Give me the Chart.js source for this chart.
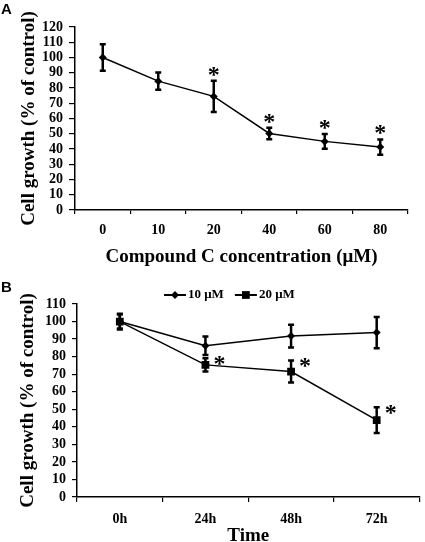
<!DOCTYPE html>
<html><head><meta charset="utf-8">
<script src="https://cdn.jsdelivr.net/npm/chart.js@4.4.0/dist/chart.umd.min.js"></script>
<style>
html,body{margin:0;padding:0;background:#fff;}
body{width:425px;height:542px;position:relative;overflow:hidden;}
.wrap{position:absolute;left:0;width:425px;}
#wa{top:0;height:270px;}
#wb{top:270px;height:272px;}
.lab{position:absolute;left:1px;font:bold 15px "Liberation Sans",Arial,sans-serif;line-height:15px;color:#000;}
</style></head><body>
<div class="wrap" id="wa"><canvas id="ca" width="425" height="270"></canvas></div>
<div class="wrap" id="wb"><canvas id="cb" width="425" height="272"></canvas></div>
<div class="lab" style="top:1px">A</div>
<div class="lab" style="top:279px">B</div>
<script>
// Panel A data
const concLabels = ['0', '10', '20', '40', '60', '80'];
const growthA = [100, 84.5, 74.5, 50.2, 45, 41.3];
const errA = [8.7, 5.6, 10.2, 3.8, 4.8, 5];
const sigA = [false, false, true, true, true, true];

// Panel B data
const timeLabels = ['0h', '24h', '48h', '72h'];
const growth10 = [100, 86.2, 91.7, 93.7];
const err10 = [4.5, 5.3, 6.5, 8.9];
const sig10 = [false, false, false, false];
const growth20 = [100, 75.3, 71.5, 43.8];
const err20 = [4, 3.8, 6.3, 7.3];
const sig20 = [false, true, true, true];

const SERIF = "'Liberation Serif', 'Times New Roman', serif";

function drawMarker(ctx, style, x, y, r) {
  ctx.beginPath();
  if (style === 'rect') {
    const s = Math.SQRT1_2 * r;
    ctx.rect(x - s, y - s, 2 * s, 2 * s);
  } else {
    ctx.moveTo(x, y - r); ctx.lineTo(x + r, y); ctx.lineTo(x, y + r); ctx.lineTo(x - r, y); ctx.closePath();
  }
  ctx.fillStyle = '#000';
  ctx.fill();
}

const errorBars = {
  id: 'errorBars',
  afterDatasetsDraw(chart, args, opts) {
    const ctx = chart.ctx, ys = chart.scales.y;
    chart.data.datasets.forEach((ds, di) => {
      if (!ds.errors) return;
      const meta = chart.getDatasetMeta(di);
      ctx.save();
      ctx.strokeStyle = '#000';
      ctx.lineWidth = 2.5;
      meta.data.forEach((pt, i) => {
        const v = ds.data[i], e = ds.errors[i];
        const yt = ys.getPixelForValue(v + e), yb = ys.getPixelForValue(v - e);
        const x = pt.x;
        ctx.beginPath();
        ctx.moveTo(x, yt); ctx.lineTo(x, yb);
        ctx.moveTo(x - 3, yt); ctx.lineTo(x + 3, yt);
        ctx.moveTo(x - 3, yb); ctx.lineTo(x + 3, yb);
        ctx.stroke();
        if (ds.sig && ds.sig[i]) {
          ctx.fillStyle = '#000';
          ctx.font = 'bold 24px ' + SERIF;
          ctx.textAlign = 'center';
          ctx.textBaseline = 'alphabetic';
          const cx = x + (opts.side ? 14 : 0);
          const cy = opts.side ? yt + 1 : yt - 11;
          ctx.fillText('*', cx, cy + 12);
        }
      });
      ctx.restore();
    });
  }
};

const customLegend = {
  id: 'customLegend',
  afterDraw(chart, args, opts) {
    if (!opts.show) return;
    const ctx = chart.ctx;
    let x = opts.x; const y = opts.y;
    ctx.save();
    ctx.font = 'bold 13px ' + SERIF;
    ctx.textBaseline = 'middle';
    ctx.textAlign = 'left';
    chart.data.datasets.forEach(ds => {
      ctx.strokeStyle = '#000'; ctx.lineWidth = 2;
      ctx.beginPath(); ctx.moveTo(x, y); ctx.lineTo(x + 22, y); ctx.stroke();
      drawMarker(ctx, ds.pointStyle, x + 11, y, ds.pointRadius);
      ctx.fillStyle = '#000';
      ctx.fillText(ds.label, x + 24, y);
      x += 24 + ctx.measureText(ds.label).width + 11;
    });
    ctx.restore();
  }
};

function axisX(title, tickLen, tickPad, height, titlePad) {
  return {
    offset: true,
    grid: { offset: true, display: true, drawOnChartArea: false, drawTicks: true, tickLength: tickLen, color: '#000', lineWidth: 1.2 },
    border: { display: true, color: '#000', width: 1.5 },
    ticks: { color: '#000', font: { family: SERIF, weight: 'bold', size: 14 }, padding: tickPad, maxRotation: 0, autoSkip: false },
    title: { display: true, text: title, color: '#000', font: { family: SERIF, weight: 'bold', size: 19 }, padding: { top: 0, bottom: titlePad } },
    afterFit(s) { s.height = height; }
  };
}
function axisY(max, tickLen, width, titlePad, size) {
  return {
    min: 0, max: max,
    grid: { display: true, drawOnChartArea: false, drawTicks: true, tickLength: tickLen, color: '#000', lineWidth: 1.2 },
    border: { display: true, color: '#000', width: 1.5 },
    ticks: { stepSize: 10, autoSkip: false, color: '#000', font: { family: SERIF, weight: 'bold', size: size }, padding: 6 },
    title: { display: true, text: 'Cell growth (% of control)', color: '#000', font: { family: SERIF, weight: 'bold', size: 19 }, padding: { top: titlePad, bottom: 0 } },
    afterFit(s) { s.width = width; }
  };
}

function series(label, data, errors, sig, style, radius) {
  return {
    label, data, errors, sig,
    borderColor: '#000', borderWidth: 1.5, tension: 0,
    pointStyle: style, pointRadius: radius,
    pointBackgroundColor: '#000', pointBorderColor: '#000', pointBorderWidth: 0
  };
}

new Chart(document.getElementById('ca'), {
  type: 'line',
  data: { labels: concLabels, datasets: [series('Compound C', growthA, errA, sigA, 'rectRot', 4)] },
  options: {
    responsive: false, animation: false, events: [],
    layout: { padding: { top: 27, right: 17, left: 0, bottom: 0 } },
    plugins: { legend: { display: false }, tooltip: { enabled: false }, errorBars: { side: false }, customLegend: { show: false } },
    scales: {
      x: axisX('Compound C concentration (μM)', 4, 8, 60, 2),
      y: axisY(120, 6, 75, 18, 14)
    }
  },
  plugins: [errorBars, customLegend]
});

new Chart(document.getElementById('cb'), {
  type: 'line',
  data: { labels: timeLabels, datasets: [
    series('10 μM', growth10, err10, sig10, 'rectRot', 4),
    series('20 μM', growth20, err20, sig20, 'rect', 5.5)
  ] },
  options: {
    responsive: false, animation: false, events: [],
    layout: { padding: { top: 34, right: 2, left: 0, bottom: 0 } },
    plugins: { legend: { display: false }, tooltip: { enabled: false }, errorBars: { side: true }, customLegend: { show: true, x: 164, y: 25 } },
    scales: {
      x: axisX('Time', 5, 9, 45, -5),
      y: axisY(110, 5, 77, 17, 14)
    }
  },
  plugins: [errorBars, customLegend]
});
</script>
</body></html>
